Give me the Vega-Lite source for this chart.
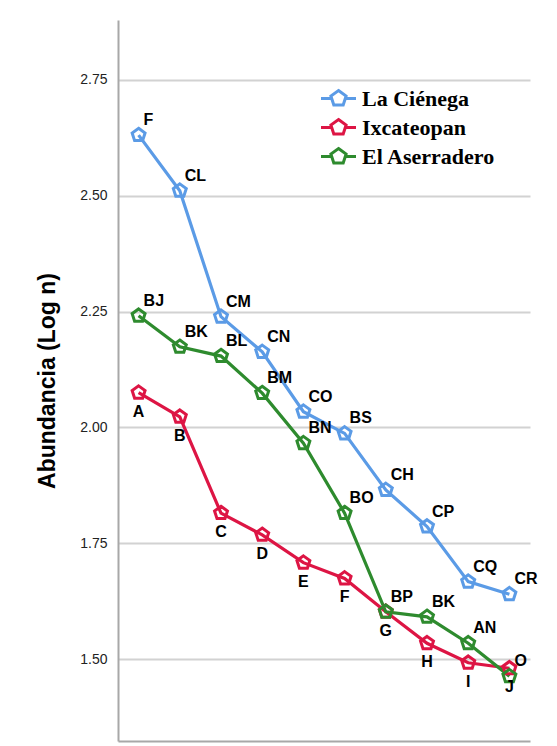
{
  "$schema": "https://vega.github.io/schema/vega-lite/v6.json",
  "autosize": "none",
  "width": 412,
  "height": 721,
  "padding": {"left": 118, "top": 20, "right": 27, "bottom": 5},
  "background": "white",
  "config": {"view": {"stroke": null}},
  "data": {"values": [
    {"site": "La Ciénega", "rank": 1, "value": 2.631, "label": "F"},
    {"site": "La Ciénega", "rank": 2, "value": 2.511, "label": "CL"},
    {"site": "La Ciénega", "rank": 3, "value": 2.239, "label": "CM"},
    {"site": "La Ciénega", "rank": 4, "value": 2.163, "label": "CN"},
    {"site": "La Ciénega", "rank": 5, "value": 2.034, "label": "CO"},
    {"site": "La Ciénega", "rank": 6, "value": 1.987, "label": "BS"},
    {"site": "La Ciénega", "rank": 7, "value": 1.865, "label": "CH"},
    {"site": "La Ciénega", "rank": 8, "value": 1.786, "label": "CP"},
    {"site": "La Ciénega", "rank": 9, "value": 1.667, "label": "CQ"},
    {"site": "La Ciénega", "rank": 10, "value": 1.640, "label": "CR"},
    {"site": "Ixcateopan", "rank": 1, "value": 2.075, "label": "A"},
    {"site": "Ixcateopan", "rank": 2, "value": 2.023, "label": "B"},
    {"site": "Ixcateopan", "rank": 3, "value": 1.815, "label": "C"},
    {"site": "Ixcateopan", "rank": 4, "value": 1.768, "label": "D"},
    {"site": "Ixcateopan", "rank": 5, "value": 1.708, "label": "E"},
    {"site": "Ixcateopan", "rank": 6, "value": 1.674, "label": "F"},
    {"site": "Ixcateopan", "rank": 7, "value": 1.602, "label": "G"},
    {"site": "Ixcateopan", "rank": 8, "value": 1.534, "label": "H"},
    {"site": "Ixcateopan", "rank": 9, "value": 1.492, "label": "I"},
    {"site": "Ixcateopan", "rank": 10, "value": 1.480, "label": "J"},
    {"site": "El Aserradero", "rank": 1, "value": 2.241, "label": "BJ"},
    {"site": "El Aserradero", "rank": 2, "value": 2.174, "label": "BK"},
    {"site": "El Aserradero", "rank": 3, "value": 2.154, "label": "BL"},
    {"site": "El Aserradero", "rank": 4, "value": 2.074, "label": "BM"},
    {"site": "El Aserradero", "rank": 5, "value": 1.966, "label": "BN"},
    {"site": "El Aserradero", "rank": 6, "value": 1.815, "label": "BO"},
    {"site": "El Aserradero", "rank": 7, "value": 1.602, "label": "BP"},
    {"site": "El Aserradero", "rank": 8, "value": 1.591, "label": "BK"},
    {"site": "El Aserradero", "rank": 9, "value": 1.534, "label": "AN"},
    {"site": "El Aserradero", "rank": 10, "value": 1.463, "label": "O"}
  ]},
  "encoding": {
    "x": {
      "field": "rank", "type": "ordinal",
      "scale": {"type": "point", "padding": 0.5},
      "axis": {"title": null, "labels": false, "ticks": false, "tickSize": 0, "grid": false, "domainColor": "#a8a8a8", "domainWidth": 2}
    },
    "y": {
      "field": "value", "type": "quantitative",
      "scale": {"domain": [1.323, 2.8795], "nice": false, "zero": false},
      "axis": {
        "title": "Abundancia (Log n)",
        "titleFont": "Liberation Sans", "titleFontSize": 23, "titleFontWeight": "bold", "titleColor": "#000000",
        "titlePadding": 20,
        "values": [1.5, 1.75, 2.0, 2.25, 2.5, 2.75], "format": ".2f",
        "labelFont": "Liberation Sans", "labelFontSize": 14, "labelColor": "#222222", "labelPadding": 11,
        "ticks": false, "tickSize": 0,
        "grid": true, "gridColor": "#d2d2d2", "gridWidth": 2,
        "domainColor": "#a8a8a8", "domainWidth": 2
      }
    }
  },
  "layer": [
    {
      "mark": {"type": "line", "strokeWidth": 3.2},
      "encoding": {
        "color": {
          "field": "site", "type": "nominal",
          "scale": {"domain": ["La Ciénega", "Ixcateopan", "El Aserradero"], "range": ["#5B9BE6", "#DD1544", "#2E8B2E"]},
          "legend": {
            "title": null, "orient": "none", "legendX": 209, "legendY": 67,
            "symbolType": "M-1.75,0L-0.68,0M0.68,0L1.75,0M0,-0.8L0.761,-0.247L0.470,0.647L-0.470,0.647L-0.761,-0.247Z",
            "symbolSize": 400, "symbolStrokeWidth": 3, "symbolFillColor": "white",
            "labelFont": "Liberation Serif", "labelFontSize": 22, "labelFontWeight": "bold", "labelColor": "#000000",
            "labelOffset": 12, "rowPadding": 2, "padding": 0,
            "encode": {"symbols": {"update": {"fill": {"value": "white"}, "strokeWidth": {"value": 3}}}}
          }
        }
      }
    },
    {
      "mark": {"type": "point", "shape": "M0,-1L0.951,-0.309L0.588,0.809L-0.588,0.809L-0.951,-0.309Z", "filled": false, "size": 185, "strokeWidth": 3, "opacity": 1},
      "encoding": {
        "stroke": {"field": "site", "type": "nominal",
          "scale": {"domain": ["La Ciénega", "Ixcateopan", "El Aserradero"], "range": ["#5B9BE6", "#DD1544", "#2E8B2E"]},
          "legend": null}
      }
    },
    {
      "transform": [{"filter": "datum.site !== 'Ixcateopan'"}],
      "mark": {"type": "text", "align": "left", "baseline": "middle", "dx": 5, "dy": -15, "font": "Liberation Sans", "fontSize": 16, "fontWeight": "bold", "color": "#000000"},
      "encoding": {"text": {"field": "label"}}
    },
    {
      "transform": [{"filter": "datum.site === 'Ixcateopan'"}],
      "mark": {"type": "text", "align": "center", "baseline": "middle", "dy": 19, "font": "Liberation Sans", "fontSize": 16, "fontWeight": "bold", "color": "#000000"},
      "encoding": {"text": {"field": "label"}}
    }
  ]
}
